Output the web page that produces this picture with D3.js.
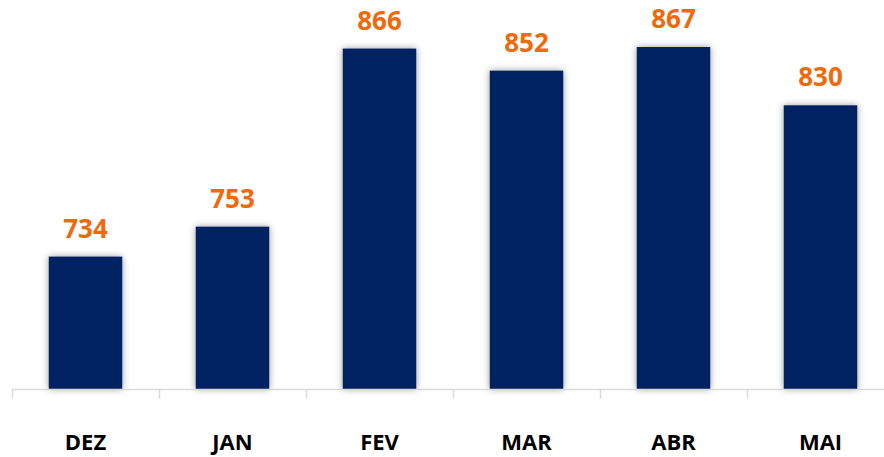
<!DOCTYPE html>
<html>
<head>
<meta charset="utf-8">
<script src="https://cdn.jsdelivr.net/npm/d3@7"></script>
<style>
  body { margin: 0; background: #fff; }
  svg { display: block; }
  .valueLabel { font-family: "Open Sans", Lato, sans-serif; font-weight: 700; font-size: 26px; fill: #EE6A0C; }
  .catLabel { font-family: "Open Sans", Lato, sans-serif; font-weight: 700; font-size: 22px; fill: #000; }
</style>
</head>
<body>
<div id="container"></div>
<script>
var months = ["DEZ", "JAN", "FEV", "MAR", "ABR", "MAI"];
var counts = [734, 753, 866, 852, 867, 830];

var width = 884, height = 457;
var margin = { top: 0, right: -10, bottom: 68, left: 12 };

var chartData = months.map(function(m, i) { return { month: m, value: counts[i] }; });

var svg = d3.select("#container")
  .append("svg")
    .attr("width", width)
    .attr("height", height);

var defs = svg.append("defs");
var glow = defs.append("filter")
  .attr("id", "glow")
  .attr("x", "-30%").attr("y", "-30%")
  .attr("width", "160%").attr("height", "160%");
glow.append("feDropShadow")
  .attr("dx", 0).attr("dy", 0)
  .attr("stdDeviation", 3.5)
  .attr("flood-color", "#000")
  .attr("flood-opacity", 0.4);

var x = d3.scaleBand()
  .domain(months)
  .range([margin.left, width - margin.right])
  .paddingInner(0.5)
  .paddingOuter(0.25);

var y = d3.scaleLinear()
  .domain([650, 900])
  .range([height - margin.bottom, -5]);

// bars
svg.append("g")
  .selectAll(".bar")
    .data(chartData)
  .enter().append("rect")
    .classed("bar", true)
    .attr("x", function(d) { return x(d.month); })
    .attr("y", function(d) { return y(d.value); })
    .attr("width", x.bandwidth())
    .attr("height", function(d) { return y(650) - y(d.value); })
    .attr("fill", "#002060")
    .attr("filter", "url(#glow)");

// category axis
var xAxisGroup = svg.append("g")
  .attr("transform", "translate(0," + (y(650) + 0.5) + ")");
xAxisGroup.append("line")
  .attr("x1", margin.left)
  .attr("x2", width - margin.right)
  .attr("stroke", "#d9d9d9")
  .attr("stroke-width", 1.5);
var step = x.step();
var edges = d3.range(months.length + 1).map(function(i) { return margin.left + i * step; });
xAxisGroup.selectAll(".tick")
    .data(edges)
  .enter().append("line")
    .classed("tick", true)
    .attr("x1", function(d) { return Math.round(d) + 0.5; })
    .attr("x2", function(d) { return Math.round(d) + 0.5; })
    .attr("y1", 0)
    .attr("y2", 9)
    .attr("stroke", "#d9d9d9")
    .attr("stroke-width", 1.5);

svg.append("g")
  .selectAll(".catLabel")
    .data(chartData)
  .enter().append("text")
    .classed("catLabel", true)
    .attr("text-anchor", "middle")
    .attr("x", function(d) { return x(d.month) + x.bandwidth() / 2; })
    .attr("y", 450)
    .text(function(d) { return d.month; });

// value labels
svg.append("g")
  .selectAll(".valueLabel")
    .data(chartData)
  .enter().append("text")
    .classed("valueLabel", true)
    .attr("text-anchor", "middle")
    .attr("x", function(d) { return x(d.month) + x.bandwidth() / 2; })
    .attr("y", function(d) { return y(d.value) - 19; })
    .text(function(d) { return d.value; });
</script>
</body>
</html>
